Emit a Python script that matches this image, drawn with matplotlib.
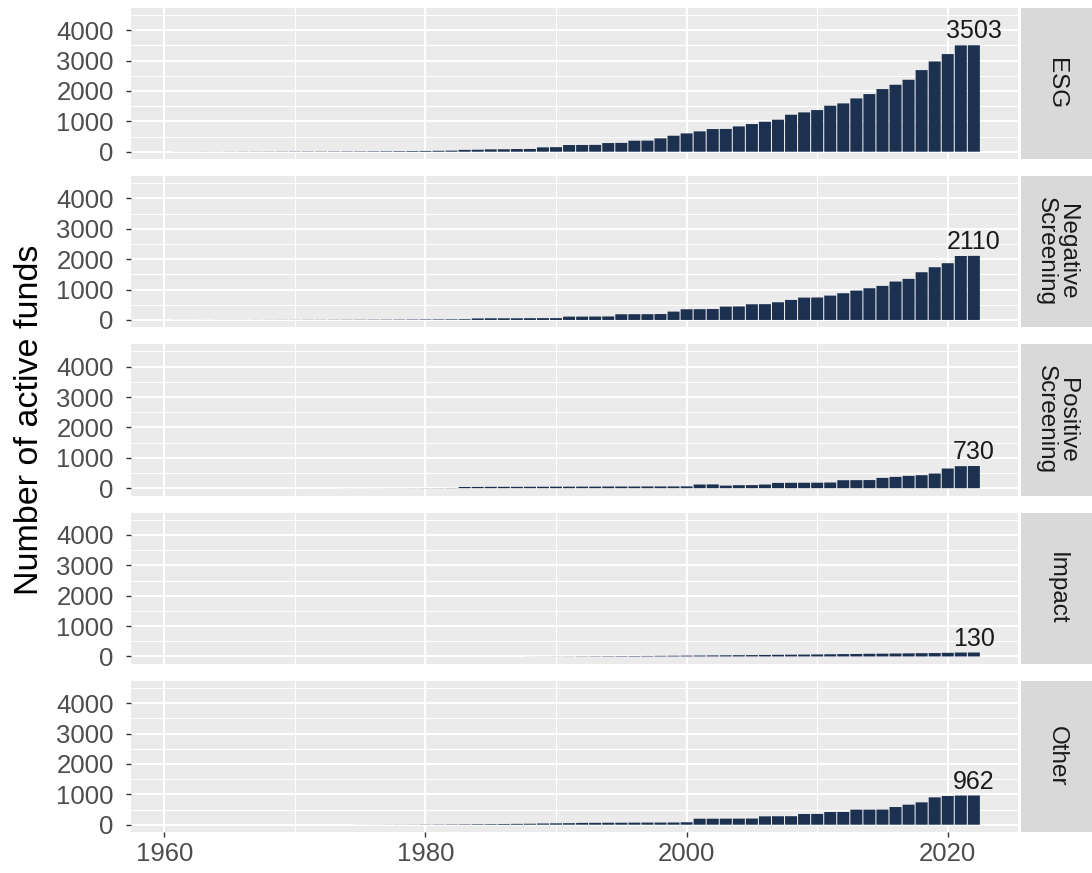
import matplotlib
matplotlib.use("Agg")
import matplotlib.pyplot as plt
import numpy as np

plt.rcParams['font.family'] = ['Liberation Sans', 'DejaVu Sans']

years = np.arange(1961, 2023)

categories = ["ESG", "Negative\nScreening", "Positive\nScreening", "Impact", "Other"]

esg = [3, 3, 4, 4, 5, 6, 6, 7, 8, 9, 10, 10, 11, 12, 13, 15, 17, 19, 22, 25, 30, 35,
       60, 65, 77, 80, 88, 90, 143, 150, 220, 222, 225, 285, 290, 362, 365, 439, 526, 603,
       669, 746, 750, 833, 910, 987, 1053, 1217, 1294, 1371, 1513, 1590, 1754, 1897, 2061,
       2204, 2368, 2686, 2971, 3213, 3500, 3503]

negative = [2, 2, 2, 3, 3, 3, 4, 4, 5, 5, 6, 6, 7, 8, 9, 10, 11, 12, 14, 16, 18, 20, 24,
            50, 55, 55, 55, 58, 60, 60, 110, 110, 112, 115, 187, 190, 190, 195, 275, 352,
            355, 360, 440, 445, 516, 520, 582, 659, 736, 740, 802, 879, 967, 1044, 1121,
            1264, 1352, 1571, 1736, 1868, 2105, 2110]

positive = [0, 0, 0, 0, 0, 0, 0, 0, 0, 0, 1, 1, 1, 2, 2, 2, 3, 3, 4, 5, 6, 8,
            40, 42, 45, 45, 45, 47, 48, 50, 50, 52, 52, 55, 55, 55, 57, 57, 58, 60,
            121, 125, 85, 99, 102, 121, 175, 178, 180, 182, 187, 263, 265, 268, 340,
            373, 406, 428, 483, 648, 725, 730]

impact = [0, 0, 0, 0, 0, 0, 0, 0, 0, 0, 0, 0, 0, 0, 0, 0, 0, 0, 0, 0, 0, 0, 0, 0, 0, 0, 0,
          2, 3, 4, 5, 8, 10, 12, 14, 16, 18, 22, 25, 28, 32, 35, 38, 42, 45, 50, 55, 58,
          62, 66, 72, 78, 82, 88, 92, 98, 102, 108, 112, 120, 130, 130]

other = [0, 0, 0, 0, 0, 0, 0, 0, 0, 0, 0, 0, 0, 0, 2, 3, 4, 5, 6, 8, 10, 12,
         15, 18, 20, 24, 28, 32, 40, 45, 50, 60, 62, 65, 65, 68, 70, 70, 72, 80,
         198, 198, 200, 200, 202, 275, 278, 280, 352, 355, 418, 420, 495, 495, 498,
         582, 659, 736, 900, 945, 960, 962]

series = [esg, negative, positive, impact, other]

W, H = 1092, 873
fig = plt.figure(figsize=(W / 100, H / 100), dpi=100)
fig.patch.set_facecolor('white')


def rect(left, top, width, height):
    return [left / W, 1 - (top + height) / H, width / W, height / H]


bar_color = '#1C3050'
panel_tops = [8, 176.25, 344.5, 512.75, 681]
panel_h = 151

for i, (cat, vals) in enumerate(zip(categories, series)):
    ax = fig.add_axes(rect(131, panel_tops[i], 887, panel_h))
    ax.set_facecolor('#EBEBEB')
    bars = ax.bar(years, vals, width=0.92, color=bar_color, linewidth=0, zorder=3)
    for b in bars:
        b.set_snap(False)  # keeps the tiny early bars faint instead of 1px dark
    ax.text(years[-1], vals[-1] + 60, str(vals[-1]), ha='center', va='bottom',
            fontsize=18, color='#1A1A1A', zorder=4)
    ax.set_xlim(1957.45, 2025.38)
    ax.set_ylim(-240, 4730)
    ax.set_yticks([0, 1000, 2000, 3000, 4000])
    ax.set_yticks([500, 1500, 2500, 3500, 4500], minor=True)
    ax.set_xticks([1960, 1980, 2000, 2020])
    ax.set_xticks([1970, 1990, 2010], minor=True)
    ax.grid(which='major', color='white', linewidth=1.5, zorder=1)
    ax.grid(which='minor', color='white', linewidth=0.75, zorder=1)
    ax.set_axisbelow(True)
    for s in ax.spines.values():
        s.set_visible(False)
    ax.tick_params(which='major', length=3.5, width=1.0, color='#333333',
                   labelcolor='#4D4D4D', labelsize=18.5)
    ax.tick_params(axis='y', pad=9)
    ax.tick_params(axis='x', pad=4)
    ax.tick_params(which='minor', length=0)
    if i < len(categories) - 1:
        ax.tick_params(axis='x', which='major', length=0, labelbottom=False)

    sax = fig.add_axes(rect(1021, panel_tops[i], 71, panel_h))
    sax.set_facecolor('#D9D9D9')
    sax.set_xticks([])
    sax.set_yticks([])
    for s in sax.spines.values():
        s.set_visible(False)
    sax.text(0.5, 0.5, cat, rotation=-90, ha='center', va='center',
             fontsize=17.5, color='#1A1A1A', linespacing=0.9,
             transform=sax.transAxes)

fig.text(30 / W, 1 - 420 / H, "Number of active funds", rotation=90,
         ha='center', va='center', fontsize=24.5, color='black')

fig.savefig("out.png", dpi=100)
